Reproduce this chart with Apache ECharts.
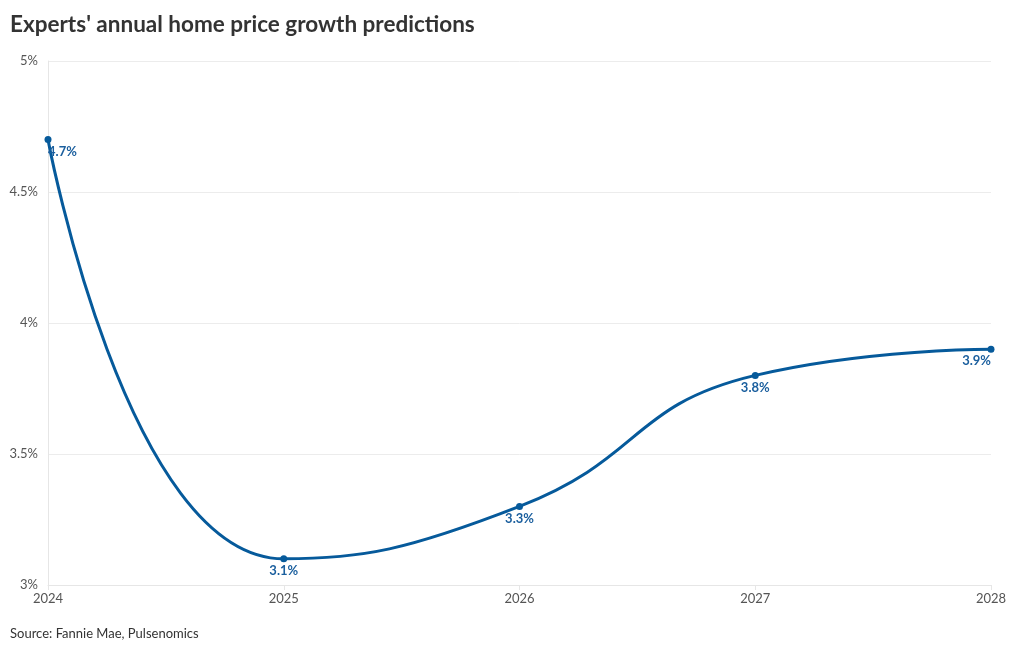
<!DOCTYPE html>
<html><head><meta charset="utf-8">
<script src="https://cdn.jsdelivr.net/npm/echarts@6/dist/echarts.min.js"></script>
<style>html,body{margin:0;padding:0;background:#fff}#c{width:1020px;height:650px}</style>
</head><body><div id="c"></div>
<script>
const years = ['2024','2025','2026','2027','2028'];
const growth = [4.7, 3.1, 3.3, 3.8, 3.9];
const yTicks = [3, 3.5, 4, 4.5, 5];

const chart = echarts.init(document.getElementById('c'));
const lastIdx = growth.length - 1;
chart.setOption({
  backgroundColor: '#fff',
  textStyle: { fontFamily: 'Lato' },
  title: [{
    text: "Experts' annual home price growth predictions",
    left: 5, top: 8,
    textStyle: { fontFamily: 'Lato', fontSize: 22.5, fontWeight: 'bold', color: '#333' }
  }, {
    text: 'Source: Fannie Mae, Pulsenomics',
    left: 5, top: 622,
    textStyle: { fontFamily: 'Lato', fontSize: 13, fontWeight: 'normal', color: '#333' }
  }],
  grid: { left: 48, right: 29, top: 61, bottom: 65, containLabel: false },
  xAxis: {
    type: 'category', data: years, boundaryGap: false,
    axisLine: { show: true, lineStyle: { color: '#e6e6e6' } },
    axisTick: { show: true, length: 5, lineStyle: { color: '#e6e6e6' } },
    axisLabel: { color: '#555', fontSize: 13, margin: 7 },
    splitLine: { show: false }
  },
  yAxis: {
    type: 'value', min: yTicks[0], max: yTicks[yTicks.length-1], interval: 0.5,
    axisLine: { show: true, lineStyle: { color: '#e6e6e6' } },
    axisTick: { show: false },
    axisLabel: { color: '#555', fontSize: 13, margin: 10, formatter: v => v + '%' },
    splitLine: { show: true, lineStyle: { color: '#ececec' } }
  },
  series: [{
    type: 'line', smooth: 0.5,
    data: growth.map((v, i) => ({
      value: v,
      label: { align: i === 0 ? 'left' : (i === lastIdx ? 'right' : 'center') }
    })),
    symbol: 'circle', symbolSize: 7,
    lineStyle: { color: '#065a9b', width: 3 },
    itemStyle: { color: '#065a9b' },
    label: {
      show: true, position: 'bottom', distance: 2,
      color: '#1b5f9e', fontSize: 13, fontWeight: 'bold',
      formatter: p => p.value + '%'
    }
  }]
});
</script></body></html>
